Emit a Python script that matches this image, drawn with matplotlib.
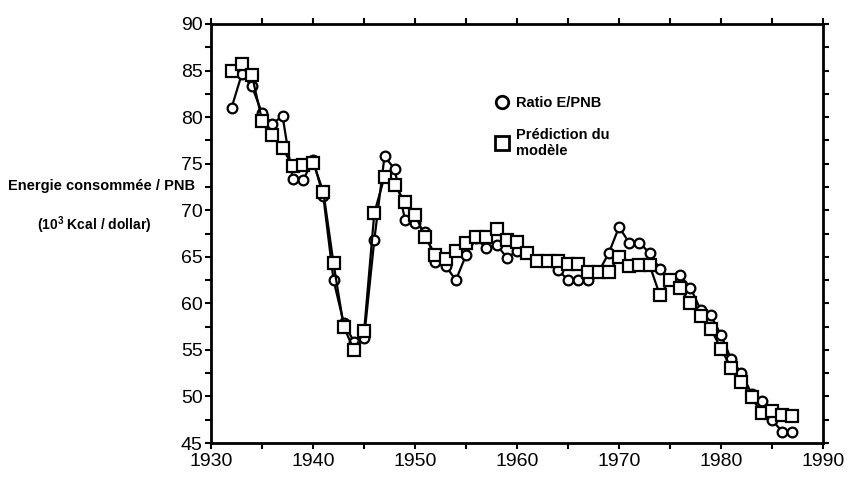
import matplotlib
matplotlib.use("Agg")
import matplotlib.pyplot as plt
from matplotlib.lines import Line2D
from matplotlib.ticker import MultipleLocator

plt.rcParams['font.family'] = ['Liberation Sans', 'DejaVu Sans']
plt.rcParams['mathtext.fontset'] = 'custom'
plt.rcParams['mathtext.rm'] = 'Liberation Sans:bold'
plt.rcParams['mathtext.bf'] = 'Liberation Sans:bold'

years = list(range(1932, 1988))
ratio = [81.0, 84.6, 83.3, 80.4, 79.3, 80.1, 73.4, 73.2, 75.4, 71.5,
         62.5, 57.9, 55.9, 56.3, 66.8, 75.8, 74.4, 69.0, 68.6, 67.7,
         64.4, 64.0, 62.5, 65.2, 67.0, 65.9, 66.3, 64.9, 65.6, 65.4,
         64.5, 64.5, 63.6, 62.5, 62.5, 62.5, 63.4, 65.4, 68.2, 66.5,
         66.5, 65.4, 63.7, 62.6, 63.0, 61.7, 59.3, 58.7, 56.6, 54.0,
         52.5, 50.3, 49.5, 47.5, 46.2, 46.2]
prediction = [85.0, 85.7, 84.5, 79.6, 78.1, 76.7, 74.7, 74.9, 75.1, 72.0,
              64.3, 57.5, 55.0, 57.0, 69.7, 73.6, 72.7, 70.9, 69.5, 67.1,
              65.2, 64.8, 65.6, 66.5, 67.1, 67.1, 68.0, 66.8, 66.6, 65.4,
              64.5, 64.5, 64.5, 64.2, 64.2, 63.4, 63.4, 63.4, 65.0, 64.0,
              64.1, 64.1, 60.9, 62.5, 61.6, 60.0, 58.6, 57.3, 55.1, 53.1,
              51.6, 49.9, 48.2, 48.4, 48.0, 47.9]

fig = plt.figure(figsize=(8.48, 4.8), dpi=100)
ax = fig.add_axes([0.249, 0.077, 0.7215, 0.873])

ax.plot(years, ratio, color='black', linewidth=1.6, marker='o', markersize=7,
        markerfacecolor='white', markeredgecolor='black', markeredgewidth=1.6)
ax.plot(years, prediction, color='black', linewidth=1.6, marker='s', markersize=8,
        markerfacecolor='white', markeredgecolor='black', markeredgewidth=1.6)

ax.set_xlim(1930, 1990)
ax.set_ylim(45, 90)
ax.xaxis.set_major_locator(MultipleLocator(10))
ax.xaxis.set_minor_locator(MultipleLocator(5))
ax.yaxis.set_major_locator(MultipleLocator(5))
ax.yaxis.set_minor_locator(MultipleLocator(2.5))
ax.tick_params(which='both', direction='out', length=4, width=1.5,
               top=True, right=True, labelsize=14)
ax.tick_params(axis='x', pad=3)
ax.tick_params(axis='y', pad=2)
for s in ax.spines.values():
    s.set_linewidth(2)

handles = [Line2D([], [], linestyle='none', marker='o', markersize=9,
                  markerfacecolor='white', markeredgecolor='black', markeredgewidth=2),
           Line2D([], [], linestyle='none', marker='s', markersize=10,
                  markerfacecolor='white', markeredgecolor='black', markeredgewidth=2)]
ax.legend(handles, ['Ratio E/PNB', 'Prédiction du\nmodèle'],
          loc='upper left', bbox_to_anchor=(0.583, 0.80), bbox_transform=fig.transFigure,
          frameon=False, borderpad=0, borderaxespad=0, handlelength=1.0,
          handletextpad=0.5, labelspacing=1.2, prop={'weight': 'bold', 'size': 10.5})

fig.text(0.120, 0.612, 'Energie consommée / PNB', ha='center', va='center',
         fontsize=10.5, fontweight='bold')
fig.text(0.111, 0.530, r'(10$^{3}$ Kcal / dollar)', ha='center', va='center',
         fontsize=10, fontweight='bold')

fig.savefig('out.png', dpi=100, facecolor='white')
